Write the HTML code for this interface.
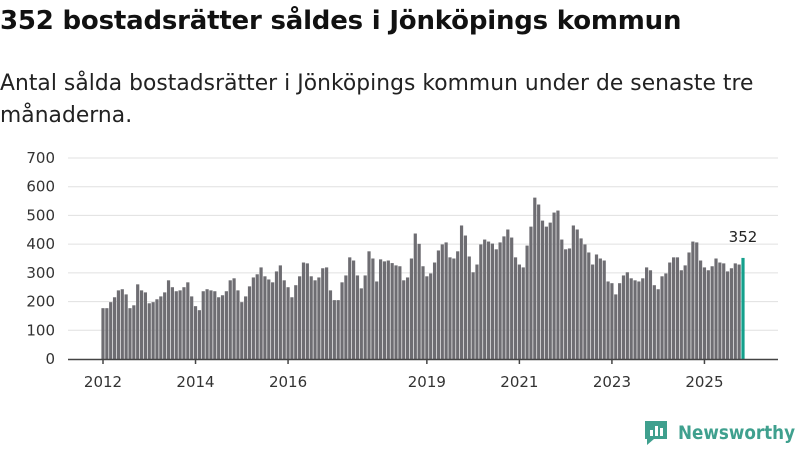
<!DOCTYPE html>
<html><head><meta charset="utf-8"><style>
body{margin:0;width:800px;height:450px;background:#fff;font-family:"Liberation Sans","DejaVu Sans",sans-serif;overflow:hidden;position:relative}
h1{position:absolute;left:0;top:6px;margin:0;font-size:26px;font-weight:bold;color:#111;font-family:"DejaVu Sans",sans-serif;letter-spacing:-0.2px;white-space:nowrap}
p{position:absolute;left:0;top:68px;margin:0;font-size:21.8px;line-height:32px;color:#222;font-family:"DejaVu Sans",sans-serif;letter-spacing:0.05px;white-space:nowrap}
svg{position:absolute;left:0;top:0}
</style></head><body>
<h1>352 bostadsrätter såldes i Jönköpings kommun</h1>
<p>Antal sålda bostadsrätter i Jönköpings kommun under de senaste tre<br>månaderna.</p>
<svg id="chart" width="800" height="450"></svg>
<script>
const values=[177,177,198,215,239,243,225,177,187,260,239,232,194,198,208,218,232,274,250,236,239,250,267,218,
184,170,236,243,239,236,215,222,236,274,281,239,198,218,253,284,295,319,288,277,267,305,326,274,
250,215,257,288,336,333,288,274,284,316,319,239,205,205,267,291,354,343,291,246,291,375,350,270,
347,340,343,334,326,323,274,284,350,437,401,323,288,298,336,378,399,406,354,350,375,465,430,357,
302,329,399,416,409,402,382,406,427,451,423,354,329,319,395,461,562,538,482,461,475,510,517,416,
382,385,465,451,420,399,371,329,364,350,343,270,264,225,264,291,302,281,274,270,281,319,309,257,
243,288,298,336,354,354,309,326,371,409,406,343,319,309,323,350,336,333,305,316,333,329,352];
const yTicks=[0,100,200,300,400,500,600,700];
const xLabels=["2012","2014","2016","2019","2021","2023","2025"];
const xLabelMonths=[0,24,48,84,108,132,156];
const NS="http://www.w3.org/2000/svg";
const svg=document.getElementById('chart');
const y0=359,yTop=158,maxV=700,xStart=103,xEnd=743;
const pitch=(xEnd-xStart)/(values.length-1);
const ys=v=>y0-(v/maxV)*(y0-yTop);
const xs=i=>xStart+i*pitch;
function mk(t,a){const e=document.createElementNS(NS,t);for(const k in a)e.setAttribute(k,a[k]);svg.appendChild(e);return e;}
yTicks.forEach(v=>{
 if(v>0){const g=mk('line',{x1:68,x2:778,y1:ys(v),y2:ys(v),stroke:'#e0e0e0','stroke-width':1});
 
 }
 const t=mk('text',{x:55,y:ys(v)+5,'text-anchor':'end','font-size':15,fill:'#333','font-family':'DejaVu Sans, sans-serif'});
 t.textContent=v;
 
 
});
values.forEach((v,i)=>{
 const last=i===values.length-1;
 const r=mk('rect',{x:xs(i)-1.6,y:ys(v),width:3.2,height:y0-ys(v),fill:last?'#14a08c':'#6e6d72'});
 
 
});
const ax=mk('line',{x1:68,x2:778,y1:y0+0.5,y2:y0+0.5,stroke:'#444','stroke-width':1.5});


xLabels.forEach((l,k)=>{
 const x=xs(xLabelMonths[k]);
 const tk=mk('line',{x1:x,x2:x,y1:y0,y2:y0+5,stroke:'#444','stroke-width':1.5});
 
 
 const t=mk('text',{x:x,y:387,'text-anchor':'middle','font-size':15,fill:'#333','font-family':'DejaVu Sans, sans-serif'});
 t.textContent=l;
 
 
});
const lv=values[values.length-1];
const lt=mk('text',{x:xs(values.length-1),y:ys(lv)-16,'text-anchor':'middle','font-size':15,fill:'#222','font-family':'DejaVu Sans, sans-serif'});
lt.textContent=lv;


</script>
<svg width="800" height="450">
<path d="M645 421h22v18h-13l-7 6v-6h-2z" fill="#3fa08e"/>
<rect x="650" y="430" width="3" height="6" fill="#fff"/><rect x="655" y="426" width="3" height="10" fill="#fff"/><rect x="660" y="428" width="3" height="8" fill="#fff"/>
<text x="678" y="439" font-size="19" font-weight="bold" fill="#3fa08e" font-family="DejaVu Sans, sans-serif" textLength="117" lengthAdjust="spacingAndGlyphs">Newsworthy</text>
</svg>
</body></html>
